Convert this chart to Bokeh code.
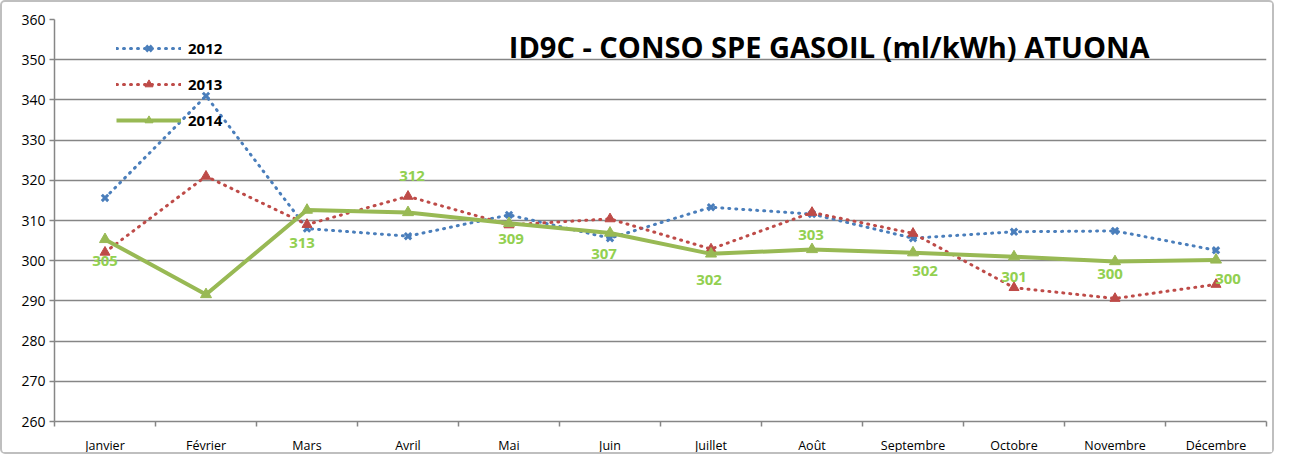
from bokeh.plotting import figure
from bokeh.models import (ColumnDataSource, FixedTicker, Legend, LegendItem, Range1d)
from bokeh.core.properties import value
from bokeh.embed import file_html
from bokeh.resources import INLINE

months = ["Janvier", "Février", "Mars", "Avril", "Mai", "Juin", "Juillet",
          "Août", "Septembre", "Octobre", "Novembre", "Décembre"]
y2012 = [315.6, 341.0, 308.0, 306.1, 311.4, 305.6, 313.3, 311.6, 305.6, 307.2, 307.4, 302.6]
y2013 = [302.1, 321.0, 309.0, 316.0, 308.9, 310.4, 302.9, 312.0, 306.8, 293.3, 290.6, 294.1]
y2014 = [305.3, 291.6, 312.6, 312.0, 309.3, 306.9, 301.7, 302.8, 302.0, 301.0, 299.8, 300.2]
labels2014 = ["305", "", "313", "312", "309", "307", "302", "303", "302", "301", "300", "300"]
y_ticks = [260, 270, 280, 290, 300, 310, 320, 330, 340, 350, 360]
title_text = "ID9C - CONSO SPE GASOIL (ml/kWh) ATUONA"

# label pixel offsets (style)
lab_dx = [0, 0, -5, 4, 2, -6, -2, -1, 12, 0, -5, 12]
lab_dy = [22, 0, 33, -36, 16, 21, 26, -14, 18, 20, 12, 19]

xs = list(range(1, len(months) + 1))
FONT = "Open Sans"
GRID = "#868686"

p = figure(width=1274, height=454, output_backend="svg", toolbar_location=None,
           x_range=Range1d(0.5, 12.5), y_range=Range1d(260, 360),
           min_border_left=52, min_border_right=10, min_border_top=17, min_border_bottom=30)
p.outline_line_color = None
p.background_fill_color = "white"
p.border_fill_color = "white"
p.styles = {"border": "2px solid #BFBFBF", "border-radius": "5px", "box-sizing": "border-box"}

# axes
p.xaxis.ticker = FixedTicker(ticks=xs, minor_ticks=[i + 0.5 for i in range(0, 13)])
p.xaxis.major_label_overrides = {i + 1: m for i, m in enumerate(months)}
p.xaxis.major_tick_line_color = None
p.xaxis.major_tick_in = 0
p.xaxis.major_tick_out = 0
p.xaxis.minor_tick_line_color = GRID
p.xaxis.minor_tick_line_width = 1.5
p.xaxis.minor_tick_in = 0
p.xaxis.minor_tick_out = 5
p.xaxis.axis_line_color = GRID
p.xaxis.axis_line_width = 1.5
p.xaxis.major_label_text_font = FONT
p.xaxis.major_label_text_font_size = "12.5px"
p.xaxis.major_label_text_color = "#000000"
p.xaxis.major_label_standoff = 10

p.yaxis.ticker = FixedTicker(ticks=y_ticks)
p.yaxis.minor_tick_line_color = None
p.yaxis.major_tick_line_color = GRID
p.yaxis.major_tick_line_width = 1.5
p.yaxis.major_tick_in = 0
p.yaxis.major_tick_out = 5
p.yaxis.axis_line_color = GRID
p.yaxis.axis_line_width = 1.5
p.yaxis.major_label_text_font = FONT
p.yaxis.major_label_text_font_size = "14px"
p.yaxis.major_label_text_color = "#000000"
p.yaxis.major_label_standoff = 4

p.xgrid.grid_line_color = None
p.ygrid.ticker = FixedTicker(ticks=y_ticks)
p.ygrid.grid_line_color = GRID
p.ygrid.grid_line_width = 1.5

src = ColumnDataSource(dict(x=xs, y2012=y2012, y2013=y2013, y2014=y2014,
                            lab=labels2014, dx=lab_dx, dy=lab_dy))

BLUE = "#4A7EBB"
RED = "#BE4B48"
GREEN = "#98B954"
LABEL_GREEN = "#92D050"

l12 = p.line("x", "y2012", source=src, line_color=BLUE, line_width=3,
             line_dash="1 6", line_cap="round")
m12 = p.scatter("x", "y2012", source=src, marker="x", size=9, line_color=BLUE, line_width=3)
l13 = p.line("x", "y2013", source=src, line_color=RED, line_width=3,
             line_dash="1 6", line_cap="round")
m13 = p.scatter("x", "y2013", source=src, marker="triangle", size=10,
                fill_color=RED, line_color=RED, line_width=1)
l14 = p.line("x", "y2014", source=src, line_color=GREEN, line_width=4)
m14 = p.scatter("x", "y2014", source=src, marker="triangle", size=11,
                fill_color=GREEN, line_color=GREEN, line_width=1)

p.text("x", "y2014", text="lab", source=src, x_offset="dx", y_offset="dy",
       text_font=value(FONT), text_font_style="bold", text_font_size="15px",
       text_color=LABEL_GREEN, text_align="center", text_baseline="middle")

p.text(x=[8.17], y=[353.3], text=[title_text], text_font=value(FONT),
       text_font_style="bold", text_font_size="29px", text_color="#000000",
       text_align="center", text_baseline="middle")

legend = Legend(items=[LegendItem(label="2012", renderers=[l12, m12]),
                       LegendItem(label="2013", renderers=[l13, m13]),
                       LegendItem(label="2014", renderers=[l14, m14])],
                location=(62, 291), orientation="vertical")
legend.glyph_width = 65
legend.glyph_height = 20
legend.spacing = 16
legend.padding = 0
legend.margin = 0
legend.label_standoff = 7
legend.label_text_font = FONT
legend.label_text_font_style = "bold"
legend.label_text_font_size = "15px"
legend.label_text_color = "#000000"
legend.background_fill_alpha = 0
legend.border_line_color = None
p.add_layout(legend)

open("out.html", "w").write(file_html(p, INLINE))
